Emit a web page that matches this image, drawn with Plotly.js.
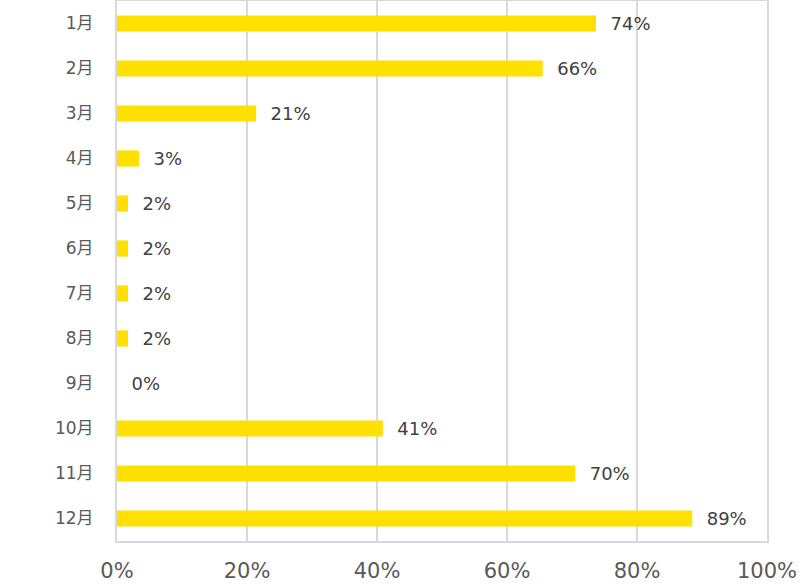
<!DOCTYPE html>
<html><head><meta charset="utf-8">
<script src="https://cdn.plot.ly/plotly-3.0.1.min.js"></script>
<style>html,body{margin:0;padding:0;background:#fff}#c{width:809px;height:585px}</style>
</head><body><div id="c"></div>
<script>
const months = ["1月","2月","3月","4月","5月","6月","7月","8月","9月","10月","11月","12月"];
const values = [0.737, 0.655, 0.214, 0.034, 0.017, 0.017, 0.017, 0.017, 0, 0.409, 0.705, 0.885];
const labels = ["74%","66%","21%","3%","2%","2%","2%","2%","0%","41%","70%","89%"];
const xTicks = [0, 0.2, 0.4, 0.6, 0.8, 1.0];
const xTickText = ["0%","20%","40%","60%","80%","100%"];

const trace = {
  type: "bar", orientation: "h",
  y: months, x: values, text: labels,
  texttemplate: "  %{text}", textposition: "outside", cliponaxis: false,
  constraintext: "none",
  textfont: {family: "DejaVu Sans, Noto Sans CJK JP", size: 18, color: "#404040"},
  marker: {color: "#FFE000"}, width: 0.36, hoverinfo: "skip"
};
const layout = {
  width: 809, height: 585,
  margin: {l: 117, r: 42, t: 1, b: 44},
  paper_bgcolor: "#fff", plot_bgcolor: "#fff",
  showlegend: false,
  xaxis: {range: [0, 1], tickvals: xTicks, ticktext: xTickText,
    showgrid: true, gridcolor: "#d9d9d9", gridwidth: 1.5, zeroline: false,
    showline: true, mirror: true, linecolor: "#d9d9d9", linewidth: 2,
    ticks: "", ticklabelstandoff: 10,
    tickfont: {family: "DejaVu Sans", size: 21, color: "#595959"}},
  yaxis: {categoryorder: "array", categoryarray: months, autorange: "reversed",
    showgrid: false, zeroline: false, showline: true, mirror: true, linecolor: "#d9d9d9", linewidth: 2,
    ticks: "", ticklabelstandoff: 18,
    tickfont: {family: "DejaVu Sans, Noto Sans CJK JP", size: 17, color: "#595959"}}
};
Plotly.newPlot("c", [trace], layout, {staticPlot: true, displayModeBar: false});
</script></body></html>
